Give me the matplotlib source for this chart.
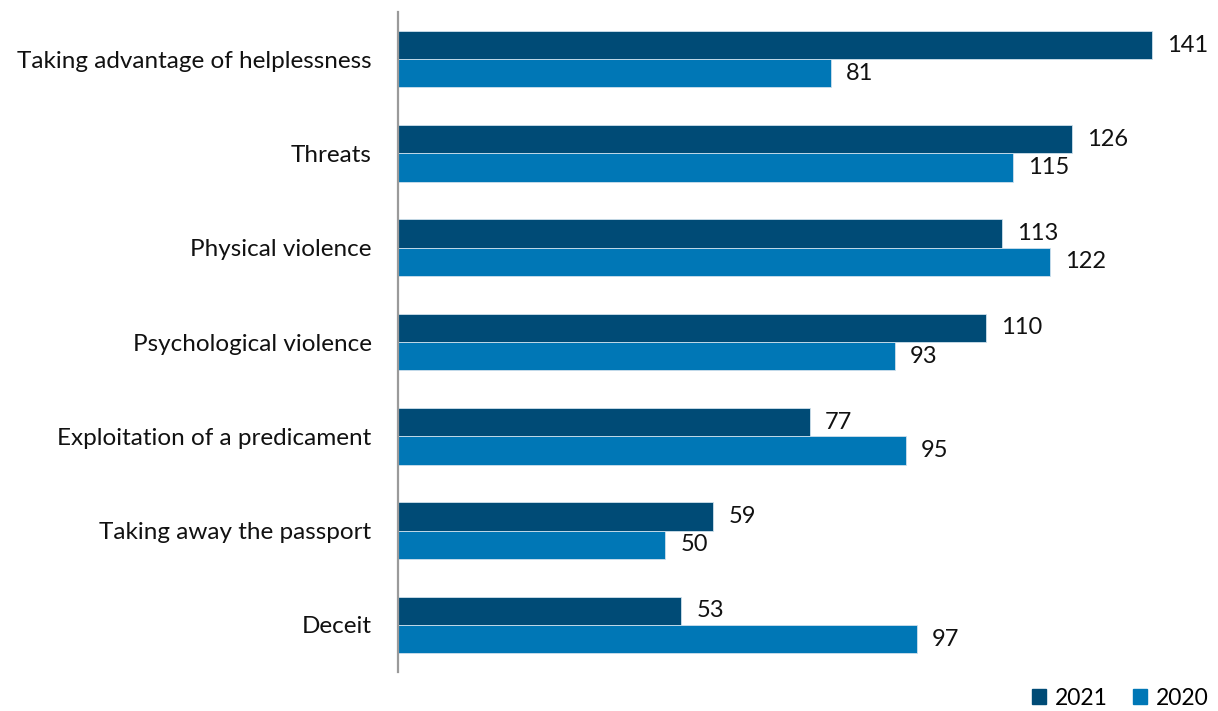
import matplotlib
matplotlib.use("Agg")
import matplotlib.pyplot as plt
import numpy as np
from matplotlib.patches import Patch

categories = [
    "Taking advantage of helplessness",
    "Threats",
    "Physical violence",
    "Psychological violence",
    "Exploitation of a predicament",
    "Taking away the passport",
    "Deceit",
]
values_2021 = [141, 126, 113, 110, 77, 59, 53]
values_2020 = [81, 115, 122, 93, 95, 50, 97]
series_labels = ["2021", "2020"]

color_2021 = "#004b76"
color_2020 = "#0077b6"

plt.rcParams["font.family"] = ["Lato", "DejaVu Sans"]

fig = plt.figure(figsize=(12.18, 7.11), dpi=100)
ax = fig.add_axes([398 / 1218, 1 - 672 / 711, 802 / 1218, 660 / 711])

y = np.arange(len(categories))
h = 0.30
bars21 = ax.barh(y - h / 2, values_2021, height=h, color=color_2021,
                 edgecolor="#cfe0ec", linewidth=0.6)
bars20 = ax.barh(y + h / 2, values_2020, height=h, color=color_2020,
                 edgecolor="#cfe0ec", linewidth=0.6)

for bars, vals in ((bars21, values_2021), (bars20, values_2020)):
    for b, v in zip(bars, vals):
        ax.annotate(str(v), (v, b.get_y() + b.get_height() / 2),
                    xytext=(15, 0), textcoords="offset pixels",
                    va="center", ha="left", fontsize=17, color="#111111")

ax.set_xlim(0, 150)
ax.set_ylim(len(categories) - 0.5, -0.5)
ax.set_yticks(y)
ax.set_yticklabels(categories, fontsize=17.5, color="#111111")
ax.tick_params(axis="y", length=0, pad=19)
ax.set_xticks([])
for s in ("top", "right", "bottom"):
    ax.spines[s].set_visible(False)
ax.spines["left"].set_color("#9a9a9a")
ax.spines["left"].set_linewidth(1.6)

handles = [Patch(color=color_2021, label=series_labels[0]),
           Patch(color=color_2020, label=series_labels[1])]
fig.legend(handles=handles, loc="lower right", bbox_to_anchor=(1.004, -0.016),
           ncol=2, frameon=False, fontsize=16.5, handlelength=0.6, handleheight=0.6,
           handletextpad=0.4, columnspacing=1.1, borderaxespad=0.2)

fig.savefig("out.png", dpi=100)
